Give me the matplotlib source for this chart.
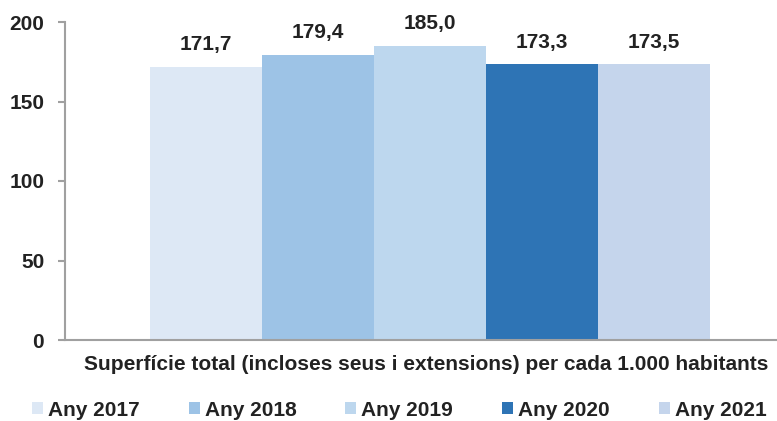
import matplotlib
matplotlib.use('Agg')
import matplotlib.pyplot as plt
from matplotlib.patches import Patch

plt.rcParams['font.family'] = ['Liberation Sans', 'DejaVu Sans']
plt.rcParams['font.weight'] = 'bold'

# data
years = ['Any 2017', 'Any 2018', 'Any 2019', 'Any 2020', 'Any 2021']
values = [171.7, 179.4, 185.0, 173.3, 173.5]
colors = ['#DDE8F5', '#9DC3E6', '#BDD7EE', '#2E74B5', '#C5D5EC']
yticks = [0, 50, 100, 150, 200]
xlabel = 'Superfície total (incloses seus i extensions) per cada 1.000 habitants'

txt = '#222222'
fig = plt.figure(figsize=(7.77, 4.21), dpi=100)
ax = fig.add_axes([65 / 777, 1 - 340 / 421, 1 - 65 / 777, 318 / 421])

for i, (v, c) in enumerate(zip(values, colors)):
    ax.bar(i, v, width=1.0, color=c, edgecolor='none')
    ax.annotate(f'{v:.1f}'.replace('.', ','), (i, v), xytext=(0, 9),
                textcoords='offset points', ha='center', va='bottom',
                fontsize=15, fontweight='bold', color=txt)

ax.set_xlim(-1.26, 5.1)
ax.set_ylim(0, 200)
ax.set_yticks(yticks)
ax.set_xticks([])
ax.tick_params(axis='y', length=5, width=1.5, color='#A0A0A0', labelsize=15,
               labelcolor=txt, pad=10)
for s in ['top', 'right']:
    ax.spines[s].set_visible(False)
for s in ['left', 'bottom']:
    ax.spines[s].set_color('#A0A0A0')
    ax.spines[s].set_linewidth(1.5)

fig.text(426.5 / 777, 1 - 365 / 421, xlabel, ha='center', va='center',
         fontsize=15, fontweight='bold', color=txt)

handles = [Patch(facecolor=c, edgecolor='none', label=y) for y, c in zip(years, colors)]
fig.legend(handles=handles, loc='center left', bbox_to_anchor=(32 / 777, 1 - 410 / 421), ncol=5,
           frameon=False, fontsize=15, handlelength=0.53, handleheight=0.5,
           handletextpad=0.24, columnspacing=2.35, borderpad=0, borderaxespad=0,
           labelcolor=txt)

fig.savefig('out.png', dpi=100)
